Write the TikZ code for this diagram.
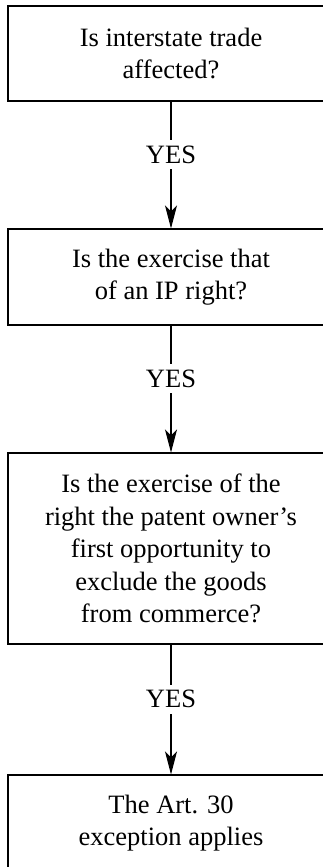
\documentclass[tikz,border=0pt]{standalone}
\usepackage{fontspec}
\setmainfont{Liberation Serif}
\usetikzlibrary{arrows.meta}
\begin{document}
\begin{tikzpicture}[x=1pt,y=1pt,
  qbox/.style={draw, line width=1.1pt, minimum width=326pt, inner sep=0pt,
    align=center, font=\fontsize{26.5}{32.5}\selectfont},
  flow/.style={line width=1.1pt, -{Stealth[length=23pt,width=12pt,inset=6pt]}},
  yeslabel/.style={fill=white, inner sep=5.5pt, pos=0.42,
    font=\fontsize{26.5}{32.5}\selectfont}]
\useasboundingbox (0,0) rectangle (322,-867);

% decision steps
\node[qbox, minimum height=95pt] (b1) at (171,-53.5)
  {Is interstate trade\\affected?};
\node[qbox, minimum height=96pt] (b2) at (171,-277)
  {Is the exercise that\\of an IP right?};
\node[qbox, minimum height=191pt] (b3) at (171,-548.5)
  {Is the exercise of the\\right the patent owner’s\\first opportunity to\\exclude the goods\\from commerce?};
\node[qbox, minimum height=96pt] (b4) at (171,-823)
  {The Art. 30\\exception applies};

% connectors
\draw[flow] (b1) -- node[yeslabel] {YES} (b2);
\draw[flow] (b2) -- node[yeslabel] {YES} (b3);
\draw[flow] (b3) -- node[yeslabel] {YES} (b4);
\end{tikzpicture}
\end{document}
